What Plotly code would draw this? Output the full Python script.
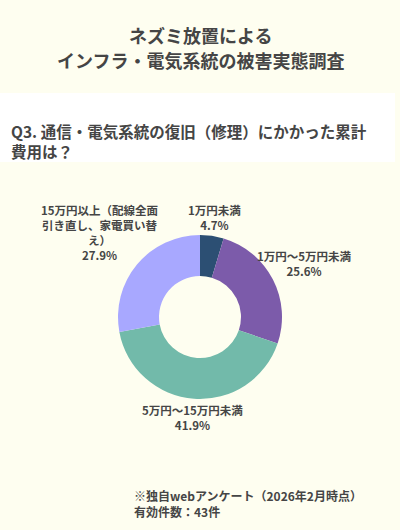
import numpy as np
import plotly.graph_objects as go

labels = ["1万円未満", "1万円～5万円未満", "5万円～15万円未満", "15万円以上（配線全面<br>引き直し、家電買い替<br>え）"]
counts = [2, 11, 18, 12]
shares = ["4.7%", "25.6%", "41.9%", "27.9%"]
colors = ["#2c4f73", "#7c5baa", "#72baaa", "#a8a8ff"]
title_lines = ["ネズミ放置による", "インフラ・電気系統の被害実態調査"]
question = "Q3. 通信・電気系統の復旧（修理）にかかった累計<br>費用は？"
note = "※独自webアンケート（2026年2月時点）<br>有効件数：43件"

font = "Noto Sans CJK JP"
ink = "#454545"
W, H = 400, 530
cx, cy, R = 200, 317, 82   # donut centre / radius in px (y from top)
lab_size = 11.5

fig = go.Figure()
fig.add_trace(go.Pie(
    labels=labels, values=counts, hole=0.5, sort=False, direction="clockwise", rotation=0,
    marker=dict(colors=colors, line=dict(width=0)), textinfo="none",
    domain=dict(x=[(cx - R) / W, (cx + R) / W], y=[(H - cy - R) / H, (H - cy + R) / H]),
    showlegend=False, hoverinfo="label+percent",
))

# labels outside the ring, pushed out along each slice's mid angle (datalabels style)
def text_w(s):
    return sum(lab_size * (0.57 if ord(ch) < 128 else 1.0) for ch in s)

vals = np.array(counts, dtype=float)
mid = (np.cumsum(vals) - vals / 2) / vals.sum() * 2 * np.pi
for lab, sh, a in zip(labels, shares, mid):
    lines = lab.split("<br>") + [sh]
    w = max(text_w(s) for s in lines)
    h = len(lines) * 14.5
    vx, vy = np.sin(a), -np.cos(a)
    d = 4 + min(w / 2 / max(abs(vx), 1e-6), h / 2 / max(abs(vy), 1e-6))
    px, py = cx + vx * (R + d), cy + vy * (R + d)
    fig.add_annotation(text="<br>".join(f"<b>{s}</b>" for s in lines), x=px / W, y=1 - py / H,
                       xref="paper", yref="paper", showarrow=False, align="center",
                       xanchor="center", yanchor="middle",
                       font=dict(family=font, size=lab_size, color=ink))

# white band behind the question
fig.add_shape(type="rect", xref="paper", yref="paper", x0=0, x1=395/W, y0=1-162/H, y1=1-93/H,
              fillcolor="white", line=dict(width=0), layer="below")

for txt, ypx in zip(title_lines, [35, 60]):
    fig.add_annotation(text=f"<b>{txt}</b>", x=0.5, y=1-ypx/H, xref="paper", yref="paper",
                       showarrow=False, yanchor="middle", font=dict(family=font, size=18, color=ink))
fig.add_annotation(text=f"<b>{question}</b>", x=9/W, y=1-141/H,
                   xref="paper", yref="paper", showarrow=False, align="left", xanchor="left", yanchor="middle",
                   font=dict(family=font, size=15.5, color=ink))
fig.add_annotation(text=f"<b>{note}</b>", x=132/W, y=1-503/H,
                   xref="paper", yref="paper", showarrow=False, align="left", xanchor="left", yanchor="middle",
                   font=dict(family=font, size=12, color=ink))

fig.update_layout(width=W, height=H, margin=dict(l=0, r=0, t=0, b=0),
                  paper_bgcolor="#fefef0", plot_bgcolor="#fefef0")
fig.write_html("out.html", config={"displayModeBar": False},
               post_script="document.body.style.margin='0';document.body.style.overflow='hidden';")
